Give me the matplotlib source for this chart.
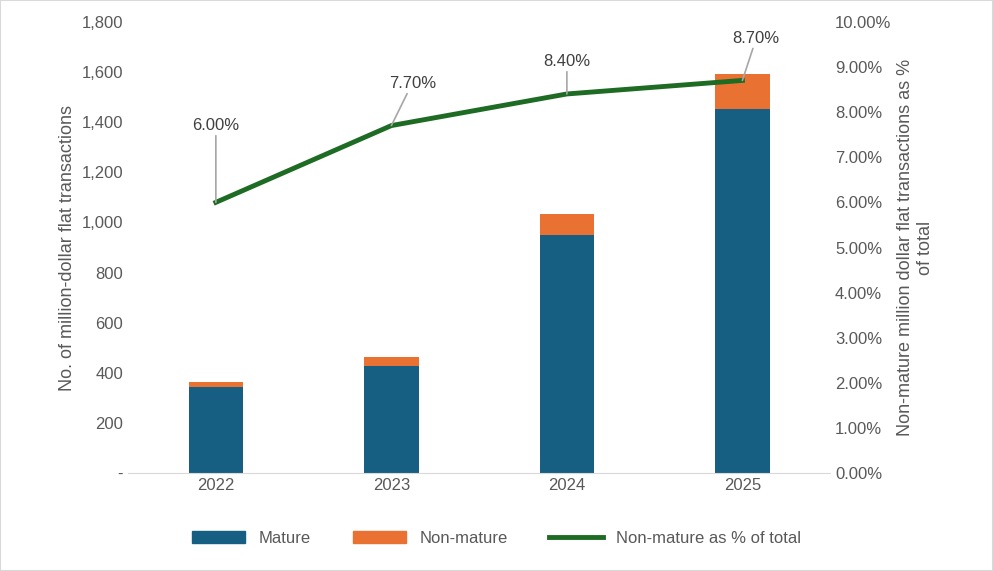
import matplotlib.pyplot as plt
from matplotlib.ticker import FuncFormatter, PercentFormatter
from matplotlib.lines import Line2D
from matplotlib.patches import Patch

years = ['2022', '2023', '2024', '2025']
mature = [345, 429, 948, 1454]
non_mature = [20, 36, 87, 139]
pct = [6.0, 7.7, 8.4, 8.7]
pct_labels = ['6.00%', '7.70%', '8.40%', '8.70%']
label_offsets = [(0, 50), (15, 25), (0, 18), (10, 25)]

blue = '#175e83'
orange = '#e97132'
green = '#1e6b24'
grey = '#595959'

plt.rcParams['font.family'] = ['Liberation Sans', 'DejaVu Sans']

fig = plt.figure(figsize=(9.93, 5.71), dpi=100)
ax1 = fig.add_axes([0.129, 0.171, 0.707, 0.791])
ax2 = ax1.twinx()

x = list(range(len(years)))
ax1.bar(x, mature, width=0.31, color=blue, zorder=2)
ax1.bar(x, non_mature, width=0.31, bottom=mature, color=orange, zorder=2)

ax1.set_ylim(0, 1800)
ax1.set_yticks(range(0, 1801, 200))
ax1.yaxis.set_major_formatter(FuncFormatter(lambda v, p: '-' if v == 0 else f'{int(v):,}'))
ax1.set_xlim(-0.5, 3.5)
ax1.set_xticks(x)
ax1.set_xticklabels(years)
ax1.set_ylabel('No. of million-dollar flat transactions', fontsize=13, color=grey)

ax2.plot(x, pct, color=green, linewidth=3.5, zorder=3)
ax2.set_ylim(0, 10)
ax2.set_yticks([i for i in range(0, 11)])
ax2.yaxis.set_major_formatter(PercentFormatter(decimals=2))
ax2.set_ylabel('Non-mature million dollar flat transactions as %\nof total', fontsize=13, color=grey)

for xi, p, lab, off in zip(x, pct, pct_labels, label_offsets):
    ax2.annotate(lab, (xi, p), xytext=off, textcoords='offset points', ha='center', va='bottom',
                 fontsize=12, color='#404040',
                 arrowprops=dict(arrowstyle='-', color='#a6a6a6', lw=1.2, shrinkA=0, shrinkB=0))

for ax in (ax1, ax2):
    for s in ax.spines.values():
        s.set_visible(False)
    ax.tick_params(length=0, labelsize=12, labelcolor=grey)
ax1.spines['bottom'].set_visible(True)
ax1.spines['bottom'].set_color('#d9d9d9')

handles = [Patch(color=blue, label='Mature'), Patch(color=orange, label='Non-mature'),
           Line2D([0], [0], color=green, lw=3.5, label='Non-mature as % of total')]
fig.legend(handles=handles, loc='center', bbox_to_anchor=(0.5, 0.057), ncol=3, frameon=False,
           fontsize=12, labelcolor=grey, handlelength=3.2, columnspacing=2.5)

fig.patches.append(plt.Rectangle((0, 0), 1, 1, transform=fig.transFigure, fill=False,
                                 edgecolor='#d9d9d9', lw=1.5))
fig.savefig('out.png', dpi=100)
